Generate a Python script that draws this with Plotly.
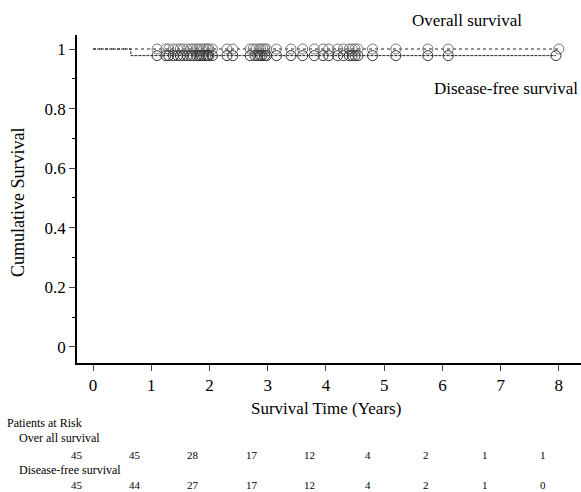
import plotly.graph_objects as go

# Kaplan-Meier summary, 45 patients, time in years
os_censor = [1.1, 1.25, 1.3, 1.38, 1.45, 1.5, 1.55, 1.62, 1.68, 1.72, 1.78, 1.82, 1.86, 1.9, 1.94, 1.97, 1.99,
             2.05, 2.3, 2.4, 2.7, 2.75, 2.8, 2.85, 2.88, 2.92, 2.95, 2.98,
             3.15, 3.4, 3.6, 3.8, 3.95,
             4.05, 4.2, 4.3, 4.4, 4.45, 4.5, 4.55, 4.8,
             5.2, 5.75, 6.1, 8.0]
dfs_censor = [1.1, 1.25, 1.3, 1.38, 1.45, 1.5, 1.55, 1.62, 1.68, 1.72, 1.78, 1.82, 1.86, 1.9, 1.94, 1.97, 1.99,
              2.05, 2.3, 2.4, 2.7, 2.78, 2.83, 2.87, 2.9, 2.95, 2.98,
              3.15, 3.4, 3.6, 3.8, 3.95,
              4.05, 4.2, 4.3, 4.4, 4.45, 4.5, 4.55, 4.8,
              5.2, 5.75, 6.1, 7.95]
os_step_t = [0, 8.0]
os_step_s = [1.0, 1.0]
dfs_step_t = [0, 0.65, 7.95]
dfs_step_s = [1.0, 1 - 1 / 45, 1 - 1 / 45]

risk_times = [0, 1, 2, 3, 4, 5, 6, 7, 8]
risk_os = [45, 45, 28, 17, 12, 4, 2, 1, 1]
risk_dfs = [45, 44, 27, 17, 12, 4, 2, 1, 0]

y_ticks = [0, 0.2, 0.4, 0.6, 0.8, 1]
y_tick_text = ["0", "0.2", "0.4", "0.6", "0.8", "1"]
x_ticks = [0, 1, 2, 3, 4, 5, 6, 7, 8]

SERIF = "Liberation Serif, Times New Roman, serif"
W, H = 581, 492
L, R, T, B = 77, 0, 35, 129


def px_x(x):
    return (x - L) / (W - L - R)


def px_y(y):
    return (H - B - y) / (H - T - B)


def label(text, x, y, size, xanchor="center", angle=0):
    return dict(text=text, x=px_x(x), y=px_y(y), xref="paper", yref="paper",
                xanchor=xanchor, yanchor="middle", showarrow=False,
                textangle=angle, font=dict(size=size))


fig = go.Figure()
fig.add_trace(go.Scatter(x=os_step_t, y=os_step_s, mode="lines", line_shape="hv",
                         line=dict(color="#222", width=1, dash="dot"), hoverinfo="skip"))
fig.add_trace(go.Scatter(x=dfs_step_t, y=dfs_step_s, mode="lines", line_shape="hv",
                         line=dict(color="#222", width=1, dash="3px,1px"), hoverinfo="skip"))
fig.add_trace(go.Scatter(x=os_censor, y=[os_step_s[-1]] * len(os_censor), mode="markers",
                         marker=dict(symbol="circle-open", size=10, color="#777", line=dict(width=1))))
fig.add_trace(go.Scatter(x=dfs_censor, y=[dfs_step_s[-1]] * len(dfs_censor), mode="markers",
                         marker=dict(symbol="circle-open", size=10, color="#333", line=dict(width=1))))

ann = [
    label("Overall survival", 467, 20, 17),
    label("Disease-free survival", 506, 88, 17),
    label("Cumulative Survival", 18, 203, 18, angle=-90),
    label("Survival Time (Years)", 326, 409, 17),
    label("Patients at Risk", 5, 423, 12, xanchor="left"),
    label("Over all survival", 17, 438, 12, xanchor="left"),
    label("Disease-free survival", 17, 470, 12, xanchor="left"),
]
for t, a, b in zip(risk_times, risk_os, risk_dfs):
    ann.append(dict(text=str(a), x=t, xref="x", xshift=-16, y=px_y(455), yref="paper",
                    xanchor="center", yanchor="middle", showarrow=False, font=dict(size=11)))
    ann.append(dict(text=str(b), x=t, xref="x", xshift=-16, y=px_y(485), yref="paper",
                    xanchor="center", yanchor="middle", showarrow=False, font=dict(size=11)))

fig.update_layout(
    width=W, height=H, margin=dict(l=L, r=R, t=T, b=B),
    paper_bgcolor="white", plot_bgcolor="white", showlegend=False,
    font=dict(family=SERIF, color="black"),
    annotations=ann,
    xaxis=dict(range=[-0.275, 8.38], tickvals=x_ticks, ticks="outside", ticklen=6, tickwidth=1,
               showline=True, linecolor="black", linewidth=1.5, showgrid=False, zeroline=False,
               tickfont=dict(size=17)),
    yaxis=dict(range=[-0.054, 1.047], tickvals=y_ticks, ticktext=y_tick_text, ticks="outside",
               ticklen=6, tickwidth=1, showline=True, linecolor="black", linewidth=1.5,
               showgrid=False, zeroline=False, tickfont=dict(size=17),
               minor=dict(dtick=0.1, tick0=0, ticks="outside", ticklen=3, tickcolor="black")),
)

fig.write_html("out.html")
